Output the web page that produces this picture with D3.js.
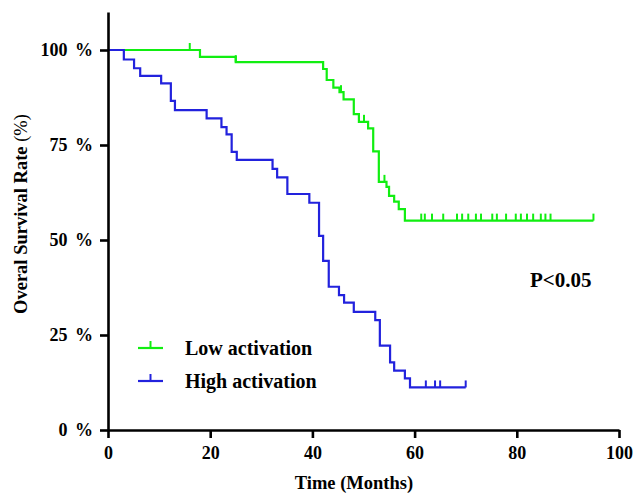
<!DOCTYPE html>
<html><head><meta charset="utf-8">
<script src="https://cdn.jsdelivr.net/npm/d3@7"></script>
<style>body{margin:0;background:#fff}svg{display:block}text{font-family:"Liberation Serif","Times New Roman",serif;font-weight:bold;fill:#000}</style>
</head><body><svg id="c" width="636" height="494"></svg>
<script>
// Low activation: [time, survival %] step points (events), censor times
const lowSteps = [[0,100],[18,98.2],[25,96.8],[42.1,95.0],[42.8,92.1],[44.1,90.1],[45.3,88.9],[46.1,87.0],[48.1,83.1],[49.1,81.1],[50.9,79.4],[51.9,73.3],[53.0,65.3],[54.5,64.0],[55.0,61.6],[56.0,60.1],[56.9,58.1],[58.1,55.1]];
const lowEnd = 95;
const lowCensor = [16,25,45.6,50.1,54.1,61.3,62.0,63.4,65.6,68.3,69.3,70.5,72.0,73.0,75.2,76.1,77.9,79.8,80.8,82.0,83.2,84.7,85.6,86.6,95];
// High activation
const highSteps = [[0,100],[3.1,97.5],[5.1,95.2],[6.3,93.2],[10.4,91.2],[12.3,86.6],[13.1,84.2],[19.3,82.0],[22.2,79.7],[23.2,77.8],[24.2,73.2],[25.2,71.1],[32.2,68.7],[33.1,66.5],[35.1,62.1],[39.4,59.8],[41.3,51.1],[42.1,44.5],[43.2,37.7],[45.2,35.5],[46.2,33.5],[48.1,31.1],[52.3,28.9],[53.2,22.2],[55.2,17.8],[56.0,15.6],[58.1,13.6],[59.1,11.2]];
const highEnd = 70;
const highCensor = [62.2,64.0,65.0,70];
const xTicks = [0,20,40,60,80,100];
const yTicks = [0,25,50,75,100];
const seriesNames = ["Low activation","High activation"];
const colors = ["#11ee11","#2222dd"];

const svg = d3.select("#c");
const x = d3.scaleLinear().domain([0,100]).range([108,619]);
const y = d3.scaleLinear().domain([0,110]).range([430,12]);

function stepValue(steps, t){ let v = steps[0][1]; for(const s of steps){ if(s[0] <= t) v = s[1]; } return v; }

function drawCurve(steps, end, censor, color){
  const pts = steps.concat([[end, steps[steps.length-1][1]]]);
  svg.append("path").datum(pts)
    .attr("d", d3.line().x(d=>x(d[0])).y(d=>y(d[1])).curve(d3.curveStepAfter))
    .attr("fill","none").attr("stroke",color).attr("stroke-width",2.2);
  svg.selectAll(null).data(censor).enter().append("line")
    .attr("x1",d=>x(d)).attr("x2",d=>x(d))
    .attr("y1",d=>y(stepValue(steps,d))).attr("y2",d=>y(stepValue(steps,d))-7)
    .attr("stroke",color).attr("stroke-width",2);
}
drawCurve(lowSteps, lowEnd, lowCensor, colors[0]);
drawCurve(highSteps, highEnd, highCensor, colors[1]);

const xa = svg.append("g").attr("transform","translate(0,430)")
  .call(d3.axisBottom(x).tickValues(xTicks).tickSize(8).tickSizeOuter(0).tickPadding(8));
const ya = svg.append("g").attr("transform","translate(108,0)")
  .call(d3.axisLeft(y).tickValues(yTicks).tickSize(8).tickSizeOuter(0).tickPadding(7).tickFormat(d=>d+" %"));
[xa,ya].forEach(a=>{
  a.select(".domain").attr("stroke","#000").attr("stroke-width",2.6);
  a.selectAll(".tick line").attr("stroke","#000").attr("stroke-width",2.6);
  a.selectAll(".tick text").style("font-size","18px").attr("fill","#000");
});
ya.selectAll(".tick text").style("word-spacing","3px");

svg.append("text").attr("x",354).attr("y",489).attr("text-anchor","middle").style("font-size","18.5px").text("Time (Months)");
const yl = svg.append("text").attr("transform","translate(27,214) rotate(-90)").attr("text-anchor","middle").style("font-size","18.5px");
yl.append("tspan").text("Overal Survival Rate ");
yl.append("tspan").style("font-weight","normal").text("(%)");

svg.append("text").attr("x",530).attr("y",287).style("font-size","21px").text("P<0.05");

const lg = svg.append("g");
seriesNames.forEach((n,i)=>{
  const yy = 348 + i*33;
  lg.append("line").attr("x1",138).attr("x2",163).attr("y1",yy).attr("y2",yy).attr("stroke",colors[i]).attr("stroke-width",2.2);
  lg.append("line").attr("x1",150.5).attr("x2",150.5).attr("y1",yy).attr("y2",yy-7).attr("stroke",colors[i]).attr("stroke-width",2);
  lg.append("text").attr("x",185).attr("y",yy+7).style("font-size","20px").text(n);
});
</script></body></html>
